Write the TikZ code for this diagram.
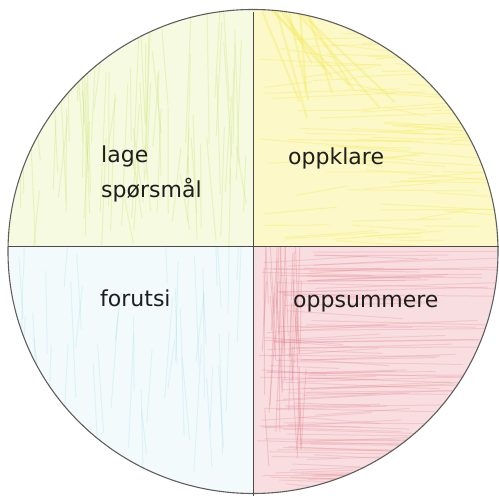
\documentclass[tikz,border=0pt]{standalone}
\usepackage{fontspec}
\setmainfont{DejaVu Sans}
\usepackage{xcolor}
\usetikzlibrary{positioning}
\definecolor{inkgray}{RGB}{30, 30, 30}
\definecolor{rimgray}{RGB}{95, 95, 95}
\definecolor{greenfill}{RGB}{246, 250, 224}
\definecolor{greenline}{RGB}{200, 226, 110}
\definecolor{yellowfill}{RGB}{252, 248, 200}
\definecolor{yellowline}{RGB}{244, 234, 70}
\definecolor{bluefill}{RGB}{243, 250, 252}
\definecolor{blueline}{RGB}{150, 220, 232}
\definecolor{redfill}{RGB}{248, 222, 224}
\definecolor{redline}{RGB}{228, 128, 140}

\begin{document}
\begin{tikzpicture}[x=1pt, y=1pt,
    word/.style={anchor=base west, inner sep=0pt, text=inkgray,
      font=\fontsize{22}{35}\selectfont},
    pencil/.style={line width=1pt, line cap=round, opacity=0.3}]
  \useasboundingbox (0,0) rectangle (499,496);
  \coordinate (mid) at (253,249);

  % quarters, coloured in
  \begin{scope}
    \clip (253,244.5) ellipse [x radius=245, y radius=242];
    \fill[greenfill] (0,249) rectangle (253,496);
    \fill[yellowfill] (253,249) rectangle (499,496);
    \fill[bluefill] (0,0) rectangle (253,249);
    \fill[redfill] (253,0) rectangle (499,249);
    \pgfmathsetseed{11}
    \begin{scope}
      \clip (0,249) rectangle (253,496);
      \foreach \i in {1,...,80}{
        \pgfmathsetmacro\xa{10+240*rnd}
        \pgfmathsetmacro\ya{249+150*rnd}
        \draw[pencil, greenline] (\xa,\ya) -- ++(-10+20*rnd, 50+110*rnd);
      }
    \end{scope}
    \begin{scope}
      \clip (253,249) rectangle (499,496);
      \foreach \i in {1,...,90}{
        \pgfmathsetmacro\xa{253+200*rnd}
        \pgfmathsetmacro\ya{255+220*rnd}
        \draw[pencil, yellowline] (\xa,\ya) -- ++(40+120*rnd, -12+24*rnd);
      }
      \foreach \i in {1,...,12}{
        \pgfmathsetmacro\xa{258+50*rnd}
        \draw[pencil, yellowline, line width=2pt] (\xa,488) -- ++(100*rnd, -40-80*rnd);
      }
    \end{scope}
    \begin{scope}
      \clip (0,0) rectangle (253,249);
      \foreach \i in {1,...,45}{
        \pgfmathsetmacro\xa{20+230*rnd}
        \pgfmathsetmacro\ya{20+200*rnd}
        \draw[pencil, blueline, opacity=0.25] (\xa,\ya) -- ++(-8+16*rnd, 40+90*rnd);
      }
    \end{scope}
    \begin{scope}
      \clip (253,0) rectangle (499,249);
      \foreach \i in {1,...,110}{
        \pgfmathsetmacro\xa{256+60*rnd}
        \pgfmathsetmacro\ya{10+235*rnd}
        \draw[pencil, redline, opacity=0.25] (\xa,\ya) -- ++(60+170*rnd, -8+16*rnd);
      }
      \foreach \i in {1,...,40}{
        \pgfmathsetmacro\xa{262+40*rnd}
        \pgfmathsetmacro\ya{20+200*rnd}
        \draw[pencil, redline] (\xa,\ya) -- ++(-6+12*rnd, 40+100*rnd);
      }
    \end{scope}
  \end{scope}

  % rim and dividers
  \draw[rimgray, line width=1.1pt] (253,244.5) ellipse [x radius=245, y radius=242];
  \coordinate (west) at (8,249);
  \coordinate (east) at (499,249);
  \coordinate (north) at (253,484);
  \coordinate (south) at (253,0);
  \draw[inkgray!80, line width=1pt] (west) -- (east);
  \draw[inkgray!80, line width=1pt] (north) -- (south);

  % labels
  \node[word] (lage) at (101,333) {lage};
  \node[word, below=35pt of lage.base west, anchor=base west] (spm) {spørsmål};
  \node[word] (oppklare) at (288,331) {oppklare};
  \node[word] (forutsi) at (100,189) {forutsi};
  \node[word] (oppsum) at (293,188) {oppsummere};
\end{tikzpicture}
\end{document}
